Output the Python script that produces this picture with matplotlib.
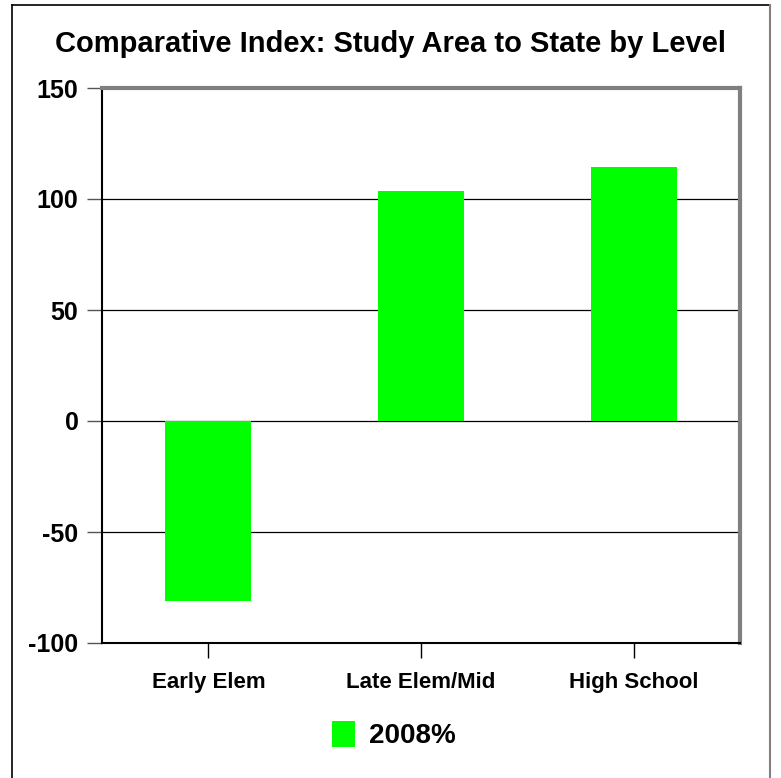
import matplotlib.pyplot as plt
from matplotlib.lines import Line2D

plt.rcParams['font.family'] = ['Liberation Sans', 'DejaVu Sans']
plt.rcParams['font.weight'] = 'bold'
plt.rcParams['axes.unicode_minus'] = False

categories = ['Early Elem', 'Late Elem/Mid', 'High School']
values_2008 = [-81, 103.5, 114.5]
series_name = '2008%'
yticks = [-100, -50, 0, 50, 100, 150]

fig = plt.figure(figsize=(7.81, 7.78), dpi=100)
ax = fig.add_axes([102/781, 1-643/778, 638/781, 555/778])

x = range(len(categories))
ax.bar(x, values_2008, width=0.405, color='#00FF00', label=series_name, zorder=3)

ax.set_xlim(-0.5, 2.5)
ax.set_ylim(-100, 150)
ax.set_yticks(yticks)
ax.set_xticks(list(x))
ax.set_xticklabels(categories, fontsize=16, fontweight='bold')
ax.tick_params(axis='y', labelsize=18, length=11, width=1, direction='out', pad=6, color='#555555')
ax.tick_params(axis='x', length=11, width=1, direction='out', pad=10)
for lab in ax.get_yticklabels():
    lab.set_fontweight('bold')

ax.grid(axis='y', color='black', linewidth=0.9, zorder=0)

for s in ['left', 'bottom']:
    ax.spines[s].set_color('black')
    ax.spines[s].set_linewidth(1.5)
for s in ['top', 'right']:
    ax.spines[s].set_color('#808080')
    ax.spines[s].set_linewidth(3)

fig.text(0.5, 1-44/778, 'Comparative Index: Study Area to State by Level',
         ha='center', va='center', fontsize=21, fontweight='bold')

leg = fig.legend(loc='center', bbox_to_anchor=(394/781, 1-735/778), frameon=False,
                 fontsize=20, handlelength=0.85, handleheight=1.05, handletextpad=0.5)
for t in leg.get_texts():
    t.set_fontweight('bold')

# figure frame
fig.add_artist(Line2D([12/781, 12/781], [0, 1-5/778], transform=fig.transFigure, color='black', lw=1.2))
fig.add_artist(Line2D([12/781, 770/781], [1-5/778, 1-5/778], transform=fig.transFigure, color='black', lw=1.2))
fig.add_artist(Line2D([770/781, 770/781], [0, 1-5/778], transform=fig.transFigure, color='#808080', lw=1.5))

fig.savefig('out.png', dpi=100)
